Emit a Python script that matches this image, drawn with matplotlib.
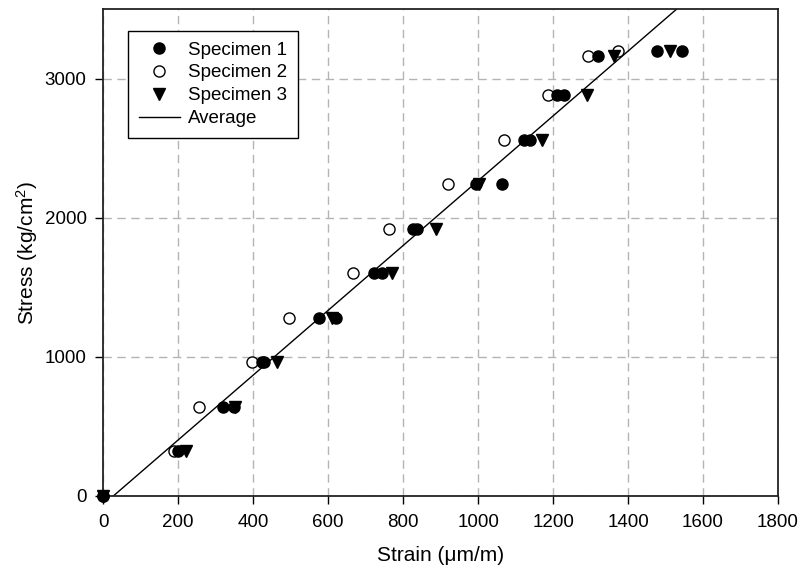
import numpy as np
import matplotlib
matplotlib.use("Agg")
import matplotlib.pyplot as plt

plt.rcParams['font.family'] = ['Liberation Sans', 'DejaVu Sans']
plt.rcParams['mathtext.fontset'] = 'custom'
plt.rcParams['mathtext.rm'] = 'Liberation Sans'
plt.rcParams['mathtext.it'] = 'Liberation Sans:italic'

# 数据
s1_strain = [0, 200, 320, 350, 423, 429, 576, 621, 723, 744, 827, 837,
             995, 1064, 1123, 1139, 1210, 1229, 1320, 1477, 1544]
s1_stress = [0, 320, 640, 640, 960, 960, 1280, 1280, 1600, 1600, 1920, 1920,
             2240, 2240, 2560, 2560, 2880, 2880, 3160, 3200, 3200]

s2_strain = [0, 190, 256, 396, 496, 667, 763, 920, 1069, 1187, 1292, 1372]
s2_stress = [0, 320, 640, 960, 1280, 1600, 1920, 2240, 2560, 2880, 3160, 3200]

s3_strain = [0, 221, 352, 464, 609, 771, 888, 1003, 1170, 1290, 1362, 1512]
s3_stress = [0, 320, 640, 960, 1280, 1600, 1920, 2240, 2560, 2880, 3160, 3200]

avg_strain = [27, 1530]
avg_stress = [0, 3500]

x_ticks = [0, 200, 400, 600, 800, 1000, 1200, 1400, 1600, 1800]
y_ticks = [0, 1000, 2000, 3000]

fig = plt.figure(figsize=(8, 5.69), dpi=100)
ax = fig.add_axes([0.129, 0.1283, 0.8435, 0.8559])

ms = 8
h2, = ax.plot(s2_strain, s2_stress, 'o', ms=ms, mfc='white', mec='black',
              mew=1.0, ls='none', label='Specimen 2', clip_on=False, zorder=3)
h3, = ax.plot(s3_strain, s3_stress, 'v', ms=ms, mfc='black', mec='black',
              ls='none', label='Specimen 3', clip_on=False, zorder=4)
h1, = ax.plot(s1_strain, s1_stress, 'o', ms=ms, mfc='black', mec='black',
              ls='none', label='Specimen 1', clip_on=False, zorder=5)
h4, = ax.plot(avg_strain, avg_stress, '-', color='black', lw=1.0,
              label='Average', zorder=2)

ax.set_xlim(0, 1800)
ax.set_ylim(0, 3500)
ax.set_xticks(x_ticks)
ax.set_yticks(y_ticks)
ax.tick_params(direction='out', length=6, width=1, labelsize=13.5, pad=6)
ax.tick_params(axis='x', pad=7)
ax.grid(True, color='#b4b4b4', ls=(0, (6, 4)), lw=1.0)
ax.set_axisbelow(True)
for sp in ax.spines.values():
    sp.set_linewidth(1.3)
    sp.set_color('#222222')

ax.set_xlabel('Strain (μm/m)', fontsize=15, labelpad=11)
ax.set_ylabel('Stress (kg/cm$^{2}$)', fontsize=15, labelpad=3)

leg = ax.legend(handles=[h1, h2, h3, h4], loc='upper left',
                bbox_to_anchor=(0.037, 0.955), borderaxespad=0,
                fancybox=False, framealpha=1, edgecolor='black',
                fontsize=13.5, handlelength=2.2, handletextpad=0.45,
                labelspacing=0.31, borderpad=0.56)
leg.get_frame().set_linewidth(1.0)

plt.savefig('out.png', dpi=100)
plt.close()
